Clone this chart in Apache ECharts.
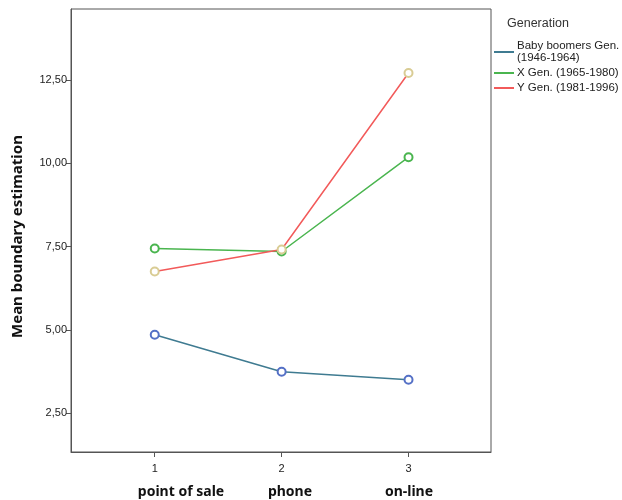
<!DOCTYPE html>
<html>
<head>
<meta charset="utf-8">
<script src="https://cdn.jsdelivr.net/npm/echarts@6/dist/echarts.min.js"></script>
<style>html,body{margin:0;padding:0;background:#fff}#c{width:622px;height:500px}</style>
</head>
<body>
<div id="c"></div>
<script>
var channels = ['point of sale', 'phone', 'on-line'];
var channelCodes = [1, 2, 3];
var seriesNames = ['Baby boomers Gen.\n(1946-1964)', 'X Gen. (1965-1980)', 'Y Gen. (1981-1996)'];
var babyBoomers = [4.85, 3.74, 3.50];
var genX = [7.44, 7.35, 10.18];
var genY = [6.75, 7.41, 12.71];
var yTicks = [2.5, 5, 7.5, 10, 12.5];

var lineColors = ['#3f7b91', '#4ab54f', '#f25a5a'];
var markerColors = ['#5470c6', '#4ab54f', '#d9cc94'];
var allData = [babyBoomers, genX, genY];

function pairs(vals) { return vals.map(function (v, i) { return [channelCodes[i], v]; }); }

var chart = echarts.init(document.getElementById('c'));
var font = 'Liberation Sans, Arial, sans-serif';
var boldFont = 'Noto Sans, Open Sans, sans-serif';
var capStyle = { fontSize: 14, fontWeight: 'bold', color: '#111', fontFamily: boldFont, align: 'center' };
chart.setOption({
  backgroundColor: '#fff',
  animation: false,
  textStyle: { fontFamily: font },
  title: {
    text: 'Generation', left: 507, top: 17, padding: 0,
    textStyle: { fontSize: 12.5, fontWeight: 'normal', color: '#333', fontFamily: font }
  },
  legend: {
    orient: 'vertical', left: 494, top: 40, padding: 0,
    itemWidth: 20, itemHeight: 2, itemGap: 3, icon: 'rect',
    textStyle: { fontSize: 11.5, color: '#222', lineHeight: 12, padding: [0, 0, 0, -2] },
    data: seriesNames.map(function (n, i) { return { name: n, itemStyle: { color: lineColors[i] } }; })
  },
  grid: { left: 71, top: 9, right: 131, bottom: 48, show: true, borderColor: '#555', borderWidth: 1, outerBoundsMode: 'none', containLabel: false },
  xAxis: {
    type: 'value', min: 0.34, max: 3.65,
    name: '{s0|}{a|' + channels[0] + '}{g1|}{b|' + channels[1] + '}{g2|}{c|' + channels[2] + '}',
    nameLocation: 'middle', nameGap: 33,
    nameTextStyle: {
      rich: {
        s0: { width: 8 },
        a: Object.assign({ width: 92 }, capStyle),
        g1: { width: 40 },
        b: Object.assign({ width: 46 }, capStyle),
        g2: { width: 70 },
        c: Object.assign({ width: 52 }, capStyle)
      }
    },
    splitLine: { show: false },
    axisLine: { show: true, lineStyle: { color: '#555' } },
    axisTick: { show: true, length: 5, lineStyle: { color: '#555' }, customValues: channelCodes },
    axisLabel: { customValues: channelCodes, margin: 11, fontSize: 11, color: '#222' }
  },
  yAxis: {
    type: 'value', min: 1.33, max: 14.63,
    name: 'Mean boundary estimation', nameLocation: 'middle', nameGap: 46,
    nameTextStyle: { fontSize: 15, fontWeight: 'bold', color: '#111', fontFamily: boldFont, padding: [0, 12, 0, 0] },
    splitLine: { show: false },
    axisLine: { show: true, lineStyle: { color: '#555' } },
    axisTick: { show: true, length: 5, lineStyle: { color: '#555' }, customValues: yTicks },
    axisLabel: {
      customValues: yTicks, fontSize: 11, color: '#222', margin: 4,
      formatter: function (v) { return v.toFixed(2).replace('.', ','); }
    }
  },
  series: seriesNames.map(function (n, i) {
    return {
      name: n, type: 'line', data: pairs(allData[i]),
      symbol: 'emptyCircle', symbolSize: 8,
      lineStyle: { color: lineColors[i], width: 1.5 },
      itemStyle: { color: markerColors[i], borderWidth: 1.2 }
    };
  })
});
</script>
</body>
</html>
